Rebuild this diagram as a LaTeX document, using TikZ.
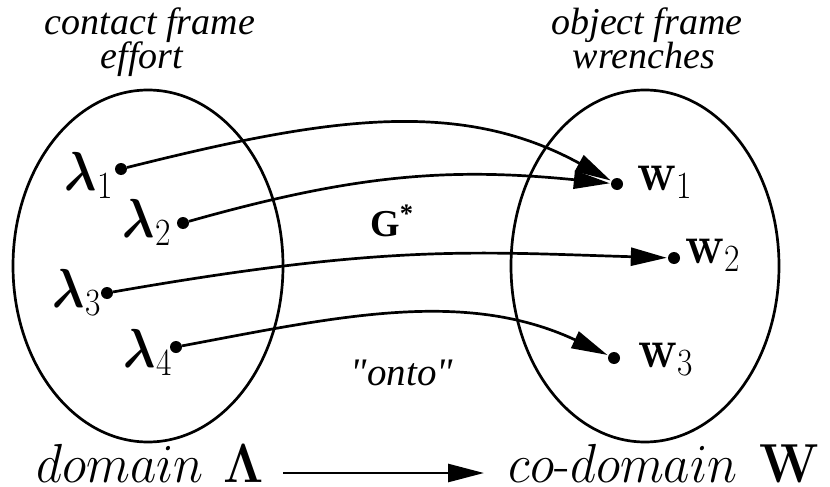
\RequirePackage{fix-cm}
\documentclass[tikz,border=0pt]{standalone}
\usepackage[no-math]{fontspec}
\usepackage{amsmath}
\usepackage{graphicx}
\newfontfamily\tnr{Liberation Serif}
\usetikzlibrary{arrows.meta}
\newcommand{\cmsz}{\fontsize{55}{66}\selectfont}
\newcommand{\sq}[1]{\scalebox{0.87}[1]{#1}}
\newcommand{\sqb}[1]{\scalebox{0.93}[1]{#1}}
\tikzset{
  dot/.style={circle, fill=black, inner sep=0pt, minimum size=12pt},
  conn/.style={line width=2.7pt, -{Triangle[length=36pt,width=18pt]}, shorten >=1pt},
  setline/.style={line width=2.7pt},
  lab/.style={inner sep=0pt, font=\cmsz},
  ttl/.style={inner sep=0pt, font=\tnr\itshape\fontsize{38}{40}\selectfont, anchor=base},
}
\begin{document}
\begin{tikzpicture}[x=1pt,y=-1pt]
\useasboundingbox (0,0) rectangle (830,487);
% sets
\draw[setline] (148,266) ellipse [x radius=135, y radius=176];
\draw[setline] (645,266) ellipse [x radius=134, y radius=176];
% titles
\node[ttl] (t1) at (150,35) {contact frame};
\node[ttl] (t2) at (142,69) {effort};
\node[ttl] (t3) at (647,35) {object frame};
\node[ttl] (t4) at (644,69) {wrenches};
% dots
\node[dot] (l1) at (121,169) {};
\node[dot] (l2) at (183,223) {};
\node[dot] (l3) at (107,293) {};
\node[dot] (l4) at (176,347) {};
\node[dot] (w1) at (617,184) {};
\node[dot] (w2) at (674,258) {};
\node[dot] (w3) at (614,358) {};
% labels
\node[lab, anchor=base east] (L1) at (113,190) {\sq{$\boldsymbol{\lambda}_1$}};
\node[lab, anchor=base east] (L2) at (171,237) {\sq{$\boldsymbol{\lambda}_2$}};
\node[lab, anchor=base east] (L3) at (101,307) {\sq{$\boldsymbol{\lambda}_3$}};
\node[lab, anchor=base east] (L4) at (172,367) {\sq{$\boldsymbol{\lambda}_4$}};
\node[lab, anchor=base west] (W1) at (637,190) {\sq{$\mathbf{w}_1$}};
\node[lab, anchor=base west] (W2) at (685,263) {\sq{$\mathbf{w}_2$}};
\node[lab, anchor=base west] (W3) at (638,367) {\sq{$\mathbf{w}_3$}};
% map label
\node[inner sep=0pt, anchor=base west, font=\tnr\bfseries\fontsize{38}{40}\selectfont] (G) at (370,236) {G\textsuperscript{*}};
\node[inner sep=0pt, anchor=base, font=\tnr\itshape\fontsize{39}{42}\selectfont] (onto) at (402,385) {"onto"};
% connectors
\draw[conn] (l1) .. controls +(200,-50) and +(-160,-88) .. (w1);
\draw[conn] (l2) .. controls +(170,-48) and +(-170,-17) .. (w1);
\draw[conn] (l3) .. controls +(280,-49) and +(-200,-6) .. (w2);
\draw[conn] (l4) .. controls +(160,-30) and +(-150,-70) .. (w3);
% bottom
\node[lab, anchor=base west] (dom) at (36,482) {\sqb{$domain\hspace{22pt}\mathbf{\Lambda}$}};
\node[lab, anchor=base east] (codom) at (820,482) {\sqb{$co$-$domain\hspace{24pt}\mathbf{W}$}};
\coordinate (a1) at (283,473);
\coordinate (a2) at (484,473);
\draw[conn, shorten >=0pt] (a1) -- (a2);
\end{tikzpicture}
\end{document}
